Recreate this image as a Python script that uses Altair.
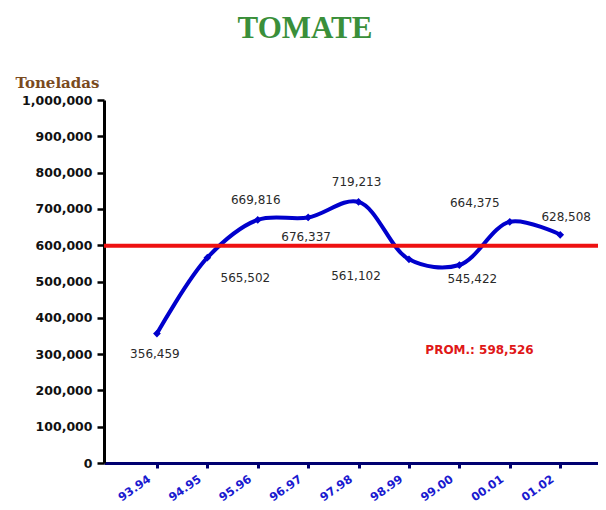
import altair as alt
import pandas as pd

seasons = ["93.94", "94.95", "95.96", "96.97", "97.98", "98.99", "99.00", "00.01", "01.02"]
tons = [356459, 565502, 669816, 676337, 719213, 561102, 545422, 664375, 628508]
placement = ["below", "below_right", "above", "below", "above", "below_left", "below_near", "above_left", "above_near"]
average = 598526
avg_label = "PROM.: 598,526"

df = pd.DataFrame({
    "i": list(range(len(seasons))),
    "season": seasons,
    "tons": tons,
    "label": [f"{v:,}" for v in tons],
    "place": placement,
})

label_expr = "[" + ",".join(f"'{s}'" for s in seasons) + "][datum.value]"

x_scale = alt.Scale(domain=[-1.05, 8.75], nice=False, zero=False)
y_scale = alt.Scale(domain=[0, 1000000], nice=False)

x_axis = alt.Axis(
    values=list(range(len(seasons))), labelExpr=label_expr, title=None, grid=False,
    domainColor="#000070", domainWidth=3, tickColor="#000070", tickWidth=3, tickSize=5,
    labelAngle=-35, labelAlign="right", labelBaseline="top", labelPadding=5, labelOffset=-11,
    labelOverlap=False,
    labelColor="#1a1ad0", labelFont="DejaVu Sans", labelFontSize=11.5, labelFontWeight="bold")
y_axis = alt.Axis(
    values=list(range(0, 1000001, 100000)), format=",d", grid=False, labelOverlap=False,
    domainColor="black", domainWidth=3, tickColor="black", tickWidth=2.5, tickSize=7,
    labelPadding=5, labelFont="DejaVu Sans", labelFontSize=12.5, labelFontWeight="bold",
    labelColor="#111111",
    title="Toneladas", titleAngle=0, titleAlign="left", titleBaseline="middle",
    titleX=-89, titleY=-18, titleColor="#7a4a1e", titleFont="DejaVu Serif",
    titleFontSize=15, titleFontWeight="bold")

def xq(field):
    return alt.X(field, scale=x_scale, axis=x_axis)

def yq(field):
    return alt.Y(field, scale=y_scale, axis=y_axis)

base = alt.Chart(df)

avg_df = pd.DataFrame({"avg": [average], "txt": [avg_label], "ax": [6.4], "ay": [311000]})

avg_rule = alt.Chart(avg_df).mark_rule(color="#ee1111", strokeWidth=4).encode(y=yq("avg:Q"))
avg_text = alt.Chart(avg_df).mark_text(color="#e01818", fontSize=12, fontWeight="bold",
                                       font="DejaVu Sans").encode(
    x=xq("ax:Q"), y=yq("ay:Q"), text="txt:N")

line = base.mark_line(color="#0000cc", strokeWidth=4, interpolate="catmull-rom").encode(
    x=xq("i:Q"), y=yq("tons:Q"))
points = base.mark_point(shape="diamond", filled=True, opacity=1, color="#0000cc", size=60).encode(
    x=xq("i:Q"), y=yq("tons:Q"))

offsets = {
    "below": (-2, 20),
    "below_right": (38, 20),
    "above": (-2, -20),
    "below_left": (-53, 17),
    "below_near": (13, 14),
    "above_left": (-35, -19),
    "above_near": (6, -18),
}
label_layers = []
for key, (dx, dy) in offsets.items():
    label_layers.append(
        base.transform_filter(alt.datum.place == key).mark_text(
            dx=dx, dy=dy, fontSize=12, font="DejaVu Sans", color="#2a2a2a").encode(
            x=xq("i:Q"), y=yq("tons:Q"), text="label:N")
    )

chart = alt.layer(line, avg_rule, points, avg_text, *label_layers).properties(
    width=494, height=363,
    autosize=alt.AutoSizeParams(type="none"),
    padding={"left": 96, "top": 92, "right": 0, "bottom": 46},
    background="white",
    title=alt.TitleParams("TOMATE", font="Liberation Serif", fontSize=31, fontWeight="bold",
                          color="#3a8f3a", anchor="middle", dx=-46, offset=30),
).configure_view(stroke=None)

chart.save("out.html", embed_options={"renderer": "svg", "actions": False})
